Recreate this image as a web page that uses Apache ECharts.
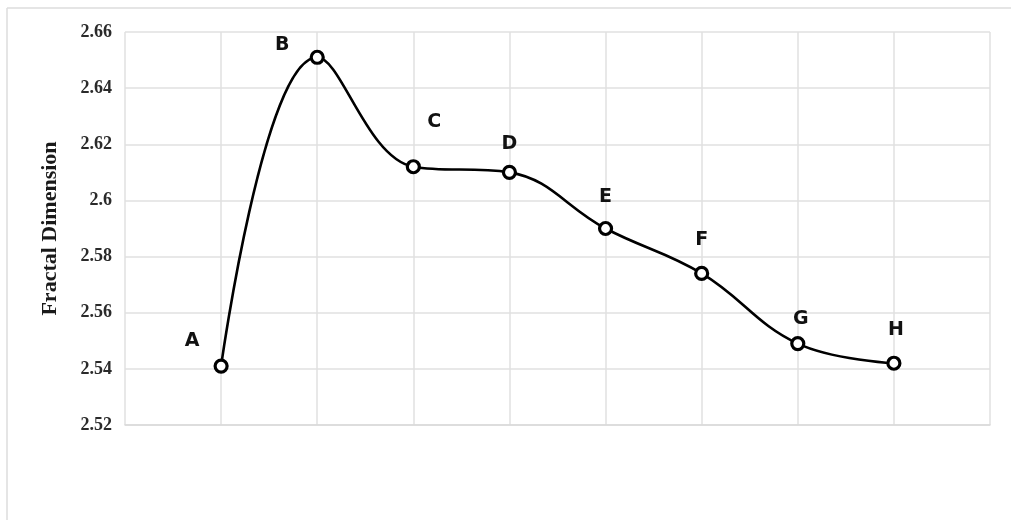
<!DOCTYPE html>
<html>
<head>
<meta charset="utf-8">
<script src="https://cdn.jsdelivr.net/npm/echarts@6/dist/echarts.min.js"></script>
<style>
  html, body { margin: 0; padding: 0; background: #fff; }
  #chart { width: 1011px; height: 520px; }
</style>
</head>
<body>
<div id="chart"></div>
<script>
// samples, with a blank slot at each end so points sit on grid lines
var categories = ['', 'A', 'B', 'C', 'D', 'E', 'F', 'G', 'H', ''];
var fractalDim = [null, 2.541, 2.651, 2.612, 2.610, 2.590, 2.574, 2.549, 2.542, null];
var yTicks = { min: 2.52, max: 2.66, step: 0.02 };

// label offsets per point (layout only)
var labelOffsets = [null, [-29, -25], [-35, -12], [21, -45], [0, -28], [0, -31], [0, -33], [3, -25], [2, -33]];

var chart = echarts.init(document.getElementById('chart'));

var points = fractalDim.map(function (v, i) {
  if (v == null) return null;
  return {
    value: v,
    label: {
      show: true,
      formatter: categories[i],
      position: 'inside',
      offset: labelOffsets[i]
    }
  };
});

var option = {
  animation: false,
  backgroundColor: '#fff',
  graphic: [
    { type: 'line', shape: { x1: 7, y1: 8, x2: 1011, y2: 8 }, style: { stroke: '#dcdcdc', lineWidth: 1.5 } },
    { type: 'line', shape: { x1: 7, y1: 8, x2: 7, y2: 520 }, style: { stroke: '#dcdcdc', lineWidth: 1.5 } }
  ],
  grid: { left: 125, right: 21, top: 32, bottom: 95 },
  xAxis: {
    type: 'category',
    data: categories,
    boundaryGap: false,
    axisLine: { show: true, lineStyle: { color: '#d9d9d9', width: 1.5 } },
    axisTick: { show: false },
    axisLabel: { show: false },
    splitLine: { show: true, lineStyle: { color: '#e0e0e0', width: 1.5 } }
  },
  yAxis: {
    type: 'value',
    min: yTicks.min,
    max: yTicks.max,
    interval: yTicks.step,
    name: 'Fractal Dimension',
    nameLocation: 'middle',
    nameGap: 64,
    nameTextStyle: { fontFamily: 'Liberation Serif', fontWeight: 'bold', fontSize: 22, color: '#1a1a1a' },
    axisLine: { show: false },
    axisTick: { show: false },
    axisLabel: {
      margin: 13,
      fontFamily: 'Liberation Serif',
      fontWeight: 'bold',
      fontSize: 18,
      color: '#2a2a2a',
      formatter: function (v) { return String(Number(v.toFixed(2))); }
    },
    splitLine: { show: true, lineStyle: { color: '#e0e0e0', width: 1.5 } }
  },
  series: [{
    type: 'line',
    data: points,
    smooth: 0.4,
    connectNulls: false,
    symbol: 'circle',
    symbolSize: 12,
    itemStyle: { color: '#fff', borderColor: '#000', borderWidth: 3.2 },
    lineStyle: { color: '#000', width: 2.6 },
    label: {
      fontFamily: 'DejaVu Sans',
      fontWeight: 'bold',
      fontSize: 19,
      color: '#111'
    },
    z: 3
  }]
};

chart.setOption(option);
</script>
</body>
</html>
